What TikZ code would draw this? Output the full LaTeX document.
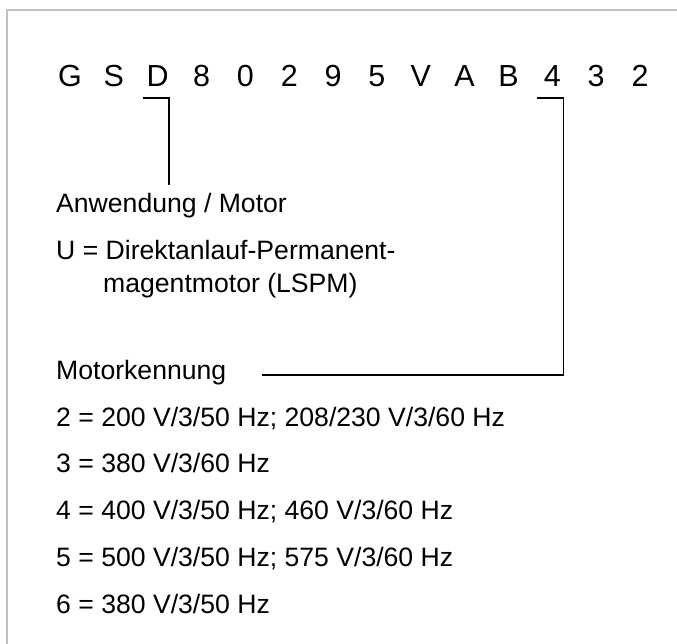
\documentclass[tikz,border=0pt]{standalone}
\usepackage{fontspec}
\setmainfont{Liberation Sans}
\usepackage{tikz}
\usetikzlibrary{calc,positioning}
\colorlet{framegray}{black!25}
\colorlet{bracketblack}{black}

\begin{document}
\begin{tikzpicture}[x=1pt, y=-1pt,
    codechar/.style={inner sep=0pt, minimum width=26pt, anchor=base,
      font=\fontsize{30.5}{34}\selectfont},
    desc/.style={inner xsep=0pt, inner ysep=9pt, anchor=base west,
      font=\fontsize{26.6}{30}\selectfont},
    bracket/.style={bracketblack, line width=1.8pt},
    frameline/.style={framegray, line width=2pt}]
      \useasboundingbox (0,0) rectangle (677,644);

      % --- frame (only top and left edge visible) ---
      \draw[frameline] (7,644) -- (7,10) -- (677,10);

      % --- type code ---
      \foreach \ch [count=\i] in {G,S,D,8,0,2,9,5,V,A,B,4,3,2}
        \node[codechar] (c\i) at ({70+(\i-1)*43.85}, 87) {\ch};

      % --- Anwendung / Motor ---
      \node[desc] (anw) at (56, 213) {Anwendung / Motor};
      \node[desc] (u1) at (56, 260) {U = Direktanlauf-Permanent-};
      \node[desc] (u2) at (103, 293) {magentmotor (LSPM)};

      % --- Motorkennung ---
      \node[desc] (mk) at (56, 379) {Motorkennung};
      \foreach \txt [count=\i] in {2 = 200 V/3/50 Hz; 208/230 V/3/60 Hz,
          3 = 380 V/3/60 Hz,
          4 = 400 V/3/50 Hz; 460 V/3/60 Hz,
          5 = 500 V/3/50 Hz; 575 V/3/60 Hz,
          6 = 380 V/3/50 Hz}
        \node[desc] (v\i) at (56, {426+(\i-1)*46.75}) {\txt};

      % brackets from D and 4
      \coordinate (dL) at ([xshift=-2pt, yshift=-11pt]c3.base west);
      \coordinate (dR) at ([xshift=-2pt, yshift=-11pt]c3.base east);
      \draw[bracket] (dL) -- (dR) -- (dR |- anw.north);

      \coordinate (mL) at ([xshift=-2pt, yshift=-11pt]c12.base west);
      \coordinate (mR) at ([xshift=-2pt, yshift=-11pt]c12.base east);
      \coordinate (mkEnd) at ([xshift=36pt, yshift=4pt]mk.base east);
      \draw[bracket] (mL) -- (mR) |- (mkEnd);
    \end{tikzpicture}
\end{document}
